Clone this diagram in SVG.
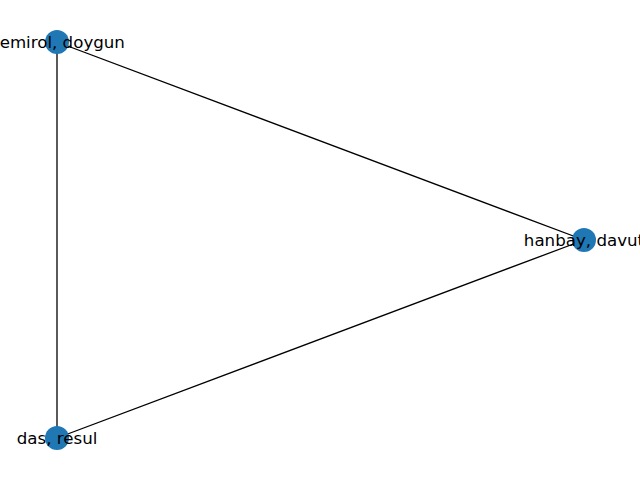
<svg xmlns="http://www.w3.org/2000/svg" width="640" height="480" viewBox="0 0 640 480">
<style>
.edge{stroke:#000;stroke-width:1.3;fill:none}
.node circle{fill:#1f77b4}
.node text{font-family:"DejaVu Sans",sans-serif;font-size:16.67px;fill:#000;text-anchor:middle;dominant-baseline:central}
</style>
<rect width="640" height="480" fill="#fff"/>
<g id="edges">
<line class="edge" x1="57" y1="42" x2="584" y2="240"/>
<line class="edge" x1="57" y1="42" x2="57" y2="438"/>
<line class="edge" x1="584" y1="240" x2="57" y2="438"/>
</g>
<g id="node-demirol" class="node"><circle cx="57" cy="42" r="12"/><text x="57" y="42">demirol, doygun</text></g>
<g id="node-hanbay" class="node"><circle cx="584" cy="240" r="12"/><text x="584" y="240">hanbay, davut</text></g>
<g id="node-das" class="node"><circle cx="57" cy="438" r="12"/><text x="57" y="438">das, resul</text></g>
</svg>
